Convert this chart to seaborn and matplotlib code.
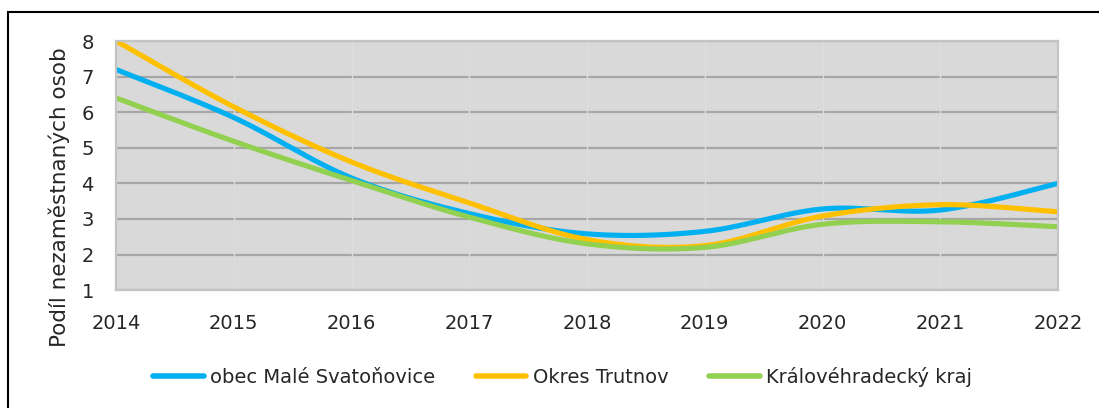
import numpy as np
import pandas as pd
import matplotlib.pyplot as plt
import matplotlib.patches as patches
import seaborn as sns

# data
years = [2014, 2015, 2016, 2017, 2018, 2019, 2020, 2021, 2022]
obec = [7.2, 5.85, 4.15, 3.15, 2.58, 2.65, 3.28, 3.25, 4.0]
okres = [8.0, 6.15, 4.6, 3.45, 2.42, 2.25, 3.08, 3.4, 3.2]
kraj = [6.4, 5.18, 4.08, 3.05, 2.3, 2.2, 2.85, 2.92, 2.78]
names = ['obec Malé Svatoňovice', 'Okres Trutnov', 'Královéhradecký kraj']
colors = ['#00B0F0', '#FFC000', '#92D050']


def smooth(x, y, n=40):
    # excel-like smoothed line (bezier through the points)
    x = np.asarray(x, float)
    y = np.asarray(y, float)
    px = np.r_[x[0], x, x[-1]]
    py = np.r_[y[0], y, y[-1]]
    t = np.linspace(0, 1, n)
    xs, ys = [], []
    for i in range(1, len(px) - 2):
        p0 = np.array([px[i], py[i]])
        p3 = np.array([px[i + 1], py[i + 1]])
        c1 = p0 + (p3 - np.array([px[i - 1], py[i - 1]])) / 6
        c2 = p3 - (np.array([px[i + 2], py[i + 2]]) - p0) / 6
        b = ((1 - t) ** 3)[:, None] * p0 + (3 * (1 - t) ** 2 * t)[:, None] * c1 \
            + (3 * (1 - t) * t ** 2)[:, None] * c2 + (t ** 3)[:, None] * p3
        xs.append(b[:, 0])
        ys.append(b[:, 1])
    return np.concatenate(xs), np.concatenate(ys)


rows = []
for name, vals in zip(names, [obec, okres, kraj]):
    sx, sy = smooth(years, vals)
    rows.append(pd.DataFrame({'rok': sx, 'podil': sy, 'serie': name}))
df = pd.concat(rows, ignore_index=True)

sns.set_style('white')
plt.rcParams['font.family'] = ['DejaVu Sans']

fig = plt.figure(figsize=(10.99, 4.08), dpi=100)
ax = fig.add_axes([0.1056, 0.289, 0.8571, 0.6105])
ax.set_facecolor('#D9D9D9')

sns.lineplot(data=df, x='rok', y='podil', hue='serie', palette=colors,
             sort=False, estimator=None, linewidth=3.7, ax=ax, legend=False)
for ln in ax.lines:
    ln.set_solid_capstyle('round')

ax.set_xlim(2014, 2022)
ax.set_ylim(1, 8)
ax.set_xticks(years)
ax.set_yticks(range(1, 9))
ax.tick_params(axis='both', length=0, labelsize=14)
ax.tick_params(axis='x', pad=17)
ax.tick_params(axis='y', pad=16)
ax.set_xlabel('')
ax.set_ylabel('Podíl nezaměstnaných osob', fontsize=15.5)
ax.yaxis.set_label_coords(-0.049, 0.373)

ax.set_axisbelow(True)
ax.grid(axis='y', color='#A6A6A6', linewidth=1.6)
ax.grid(axis='x', visible=False)
ax.vlines(years, 1, 8, color='#DDDDDD', linewidth=1.0, zorder=0.8)
for s in ax.spines.values():
    s.set_color('#C4C4C4')
    s.set_linewidth(1.6)

handles = [plt.Line2D([], [], color=c, linewidth=4, solid_capstyle='round') for c in colors]
fig.legend(handles, names, loc='center', bbox_to_anchor=(0.512, 0.076), ncol=3,
           frameon=False, fontsize=14, handlelength=2.6, handletextpad=0.35,
           columnspacing=2.07)

# outer frame of the chart
fig.patches.append(patches.Rectangle((8 / 1099, -0.05), 1.2, 1 - 12 / 408 + 0.05,
                                     transform=fig.transFigure, fill=False,
                                     edgecolor='black', linewidth=1.5))

fig.savefig('out.png', dpi=100)
